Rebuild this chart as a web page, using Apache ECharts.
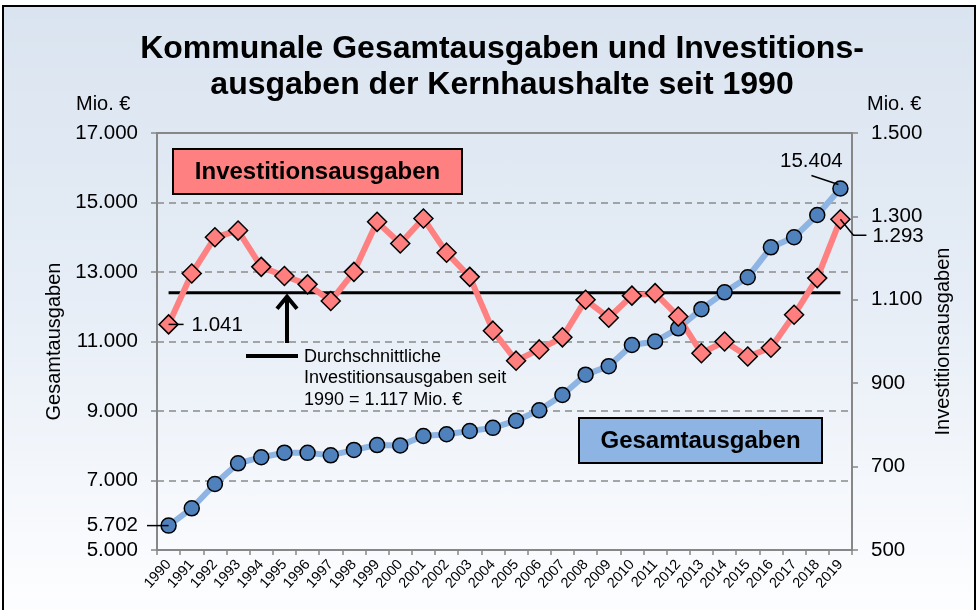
<!DOCTYPE html>
<html><head><meta charset="utf-8">
<script src="https://cdn.jsdelivr.net/npm/echarts@6/dist/echarts.min.js"></script>
<style>
html,body{margin:0;padding:0;background:#fff;overflow:hidden;}
#frame{position:absolute;left:2px;top:5px;width:974px;height:640px;border:2px solid #000;box-sizing:border-box;background:linear-gradient(to bottom,#dae4f0 0%,#e6edf6 45%,#fbfcfe 90%,#ffffff 100%);}
#chart{position:absolute;left:0;top:0;width:978px;height:610px;}
</style></head><body>
<div id="frame"></div><div id="chart"></div>
<script>
// ---- data ----
const years = ['1990','1991','1992','1993','1994','1995','1996','1997','1998','1999',
  '2000','2001','2002','2003','2004','2005','2006','2007','2008','2009',
  '2010','2011','2012','2013','2014','2015','2016','2017','2018','2019'];
const gesamtausgaben = [5702,6200,6900,7495,7670,7800,7795,7725,7880,8020,
  8010,8280,8330,8425,8515,8720,9020,9460,10046,10290,
  10900,11000,11380,11930,12416,12850,13710,14000,14640,15404];
const investitionsausgaben = [1041,1163,1250,1266,1179,1157,1137,1097,1167,1287,
  1235,1295,1213,1155,1026,954,981,1010,1100,1057,
  1110,1116,1060,972,1000,964,985,1064,1152,1293];
const avgInvest = 1117;
const leftAxis = {min:5000, max:17000, interval:2000};
const rightAxis = {min:500, max:1500, interval:200};
const titleText = 'Kommunale Gesamtausgaben und Investitions-\nausgaben der Kernhaushalte seit 1990';
const unitLabel = 'Mio. €';
const avgText = 'Durchschnittliche\nInvestitionsausgaben seit\n1990 = 1.117 Mio. €';

const FF = '"Liberation Sans", Arial, sans-serif';
const fmt = v => String(v).replace(/\B(?=(\d{3})+(?!\d))/g, '.');
const axisGray = '#878787';

const chart = echarts.init(document.getElementById('chart'), null, {renderer:'canvas'});
const option = {
  animation:false,
  backgroundColor:'transparent',
  title:{text:titleText, left:497, textAlign:'center', top:26,
    textStyle:{fontFamily:FF, fontSize:32, fontWeight:'bold', color:'#000', lineHeight:36}},
  grid:{left:157, right:126, top:133, bottom:60},
  xAxis:[{type:'category', data:years, boundaryGap:true,
      axisLine:{lineStyle:{color:axisGray, width:2}},
      axisTick:{show:true, interval:0, length:5, lineStyle:{color:axisGray, width:1.5}},
      axisLabel:{interval:0, rotate:48, fontSize:14.5, fontFamily:FF, color:'#000', margin:12}},
    {type:'category', data:years, position:'top',
      axisLine:{show:true, lineStyle:{color:axisGray, width:2}},
      axisTick:{show:false}, axisLabel:{show:false}}],
  yAxis:[{type:'value', position:'left', min:leftAxis.min, max:leftAxis.max, interval:leftAxis.interval,
      name:'Gesamtausgaben', nameLocation:'middle', nameRotate:90, nameGap:88,
      nameTextStyle:{fontFamily:FF, fontSize:20, color:'#000'},
      axisLine:{show:true, lineStyle:{color:axisGray, width:2}},
      axisTick:{show:true, length:6, lineStyle:{color:axisGray, width:1.5}},
      axisLabel:{formatter:fmt, fontFamily:FF, fontSize:20.5, color:'#000', margin:19},
      splitLine:{show:true, lineStyle:{color:'#8a8a8a', width:1.5, type:[7,5]}}},
    {type:'value', position:'right', min:rightAxis.min, max:rightAxis.max, interval:rightAxis.interval,
      name:'Investitionsausgaben', nameLocation:'middle', nameRotate:90, nameGap:80,
      nameTextStyle:{fontFamily:FF, fontSize:20, color:'#000'},
      axisLine:{show:true, lineStyle:{color:axisGray, width:2}},
      axisTick:{show:true, length:6, lineStyle:{color:axisGray, width:1.5}},
      axisLabel:{formatter:fmt, fontFamily:FF, fontSize:20.5, color:'#000', margin:19},
      splitLine:{show:false}}],
  series:[
    {name:'Durchschnitt', type:'line', yAxisIndex:1, silent:true, symbol:'none',
      data:[[years[0], avgInvest],[years[years.length-1], avgInvest]],
      lineStyle:{color:'#000', width:3}},
    {name:'Gesamtausgaben', type:'line', yAxisIndex:0, data:gesamtausgaben,
      symbol:'circle', symbolSize:15,
      lineStyle:{color:'#8db4e2', width:6},
      itemStyle:{color:'#4f81bd', borderColor:'#000', borderWidth:1.5}},
    {name:'Investitionsausgaben', type:'line', yAxisIndex:1, data:investitionsausgaben,
      symbol:'diamond', symbolSize:19,
      lineStyle:{color:'#ff8080', width:6},
      itemStyle:{color:'#ff7f7f', borderColor:'#000', borderWidth:1.5}}
  ]
};
chart.setOption(option);

// ---- annotations positioned through the chart's own scales ----
const n = years.length;
const pxG = i => chart.convertToPixel({xAxisIndex:0, yAxisIndex:0}, [i, gesamtausgaben[i]]);
const pxI = i => chart.convertToPixel({xAxisIndex:0, yAxisIndex:1}, [i, investitionsausgaben[i]]);
const gridLeft = chart.convertToPixel({xAxisIndex:0}, 0) - (chart.convertToPixel({xAxisIndex:0}, 1) - chart.convertToPixel({xAxisIndex:0}, 0))/2;
const avgY = chart.convertToPixel({yAxisIndex:1}, avgInvest);
const g0 = pxG(0), i0 = pxI(0), gN = pxG(n-1), iN = pxI(n-1);
const txt = (x,y,t,o) => ({type:'text', x:x, y:y, style:Object.assign({text:t, fill:'#000', font:'20.5px '+FF, align:'left', verticalAlign:'middle'}, o||{})});
const ln = (pts, w) => ({type:'polyline', shape:{points:pts}, style:{stroke:'#000', lineWidth:w||1.5, fill:null}});

const graphics = [
  // unit labels
  txt(76, 104, unitLabel, {font:'20px '+FF}),
  txt(867, 104, unitLabel, {font:'20px '+FF}),
  // 5.702
  ln([[gridLeft-10, g0[1]],[g0[0], g0[1]]], 1.5),
  txt(gridLeft-19, g0[1], fmt(gesamtausgaben[0]), {align:'right'}),
  // 1.041
  ln([[i0[0], i0[1]],[i0[0]+15, i0[1]]], 1.5),
  txt(i0[0]+23, i0[1]+1, fmt(investitionsausgaben[0])),
  // 15.404
  ln([[gN[0]-29, gN[1]-13],[gN[0]-2, gN[1]-4]], 1.5),
  txt(gN[0]-29, gN[1]-27, fmt(gesamtausgaben[n-1]), {align:'center'}),
  // 1.293
  ln([[iN[0], iN[1]],[iN[0]+13, iN[1]+16],[iN[0]+26, iN[1]+16]], 1.5),
  txt(iN[0]+32, iN[1]+17, fmt(investitionsausgaben[n-1])),
  // average annotation
  ln([[287, 343],[287, avgY+4]], 4),
  ln([[277, avgY+16],[287, avgY+4],[297, avgY+16]], 4),
  ln([[246, 356],[298, 356]], 4),
  {type:'text', x:304, y:346, style:{text:avgText, fill:'#000', font:'18px '+FF, lineHeight:21.5, align:'left', verticalAlign:'top'}},
  // legend boxes
  {type:'rect', shape:{x:173, y:149, width:289, height:45}, style:{fill:'#ff8080', stroke:'#000', lineWidth:2}},
  txt(317.5, 172, 'Investitionsausgaben', {font:'bold 24px '+FF, align:'center'}),
  {type:'rect', shape:{x:579, y:418, width:243, height:45}, style:{fill:'#8db4e2', stroke:'#000', lineWidth:2}},
  txt(700.5, 441, 'Gesamtausgaben', {font:'bold 24px '+FF, align:'center'})
];
chart.setOption({graphic:{elements:graphics.map(e => Object.assign({z:10}, e))}});
</script>
</body></html>
